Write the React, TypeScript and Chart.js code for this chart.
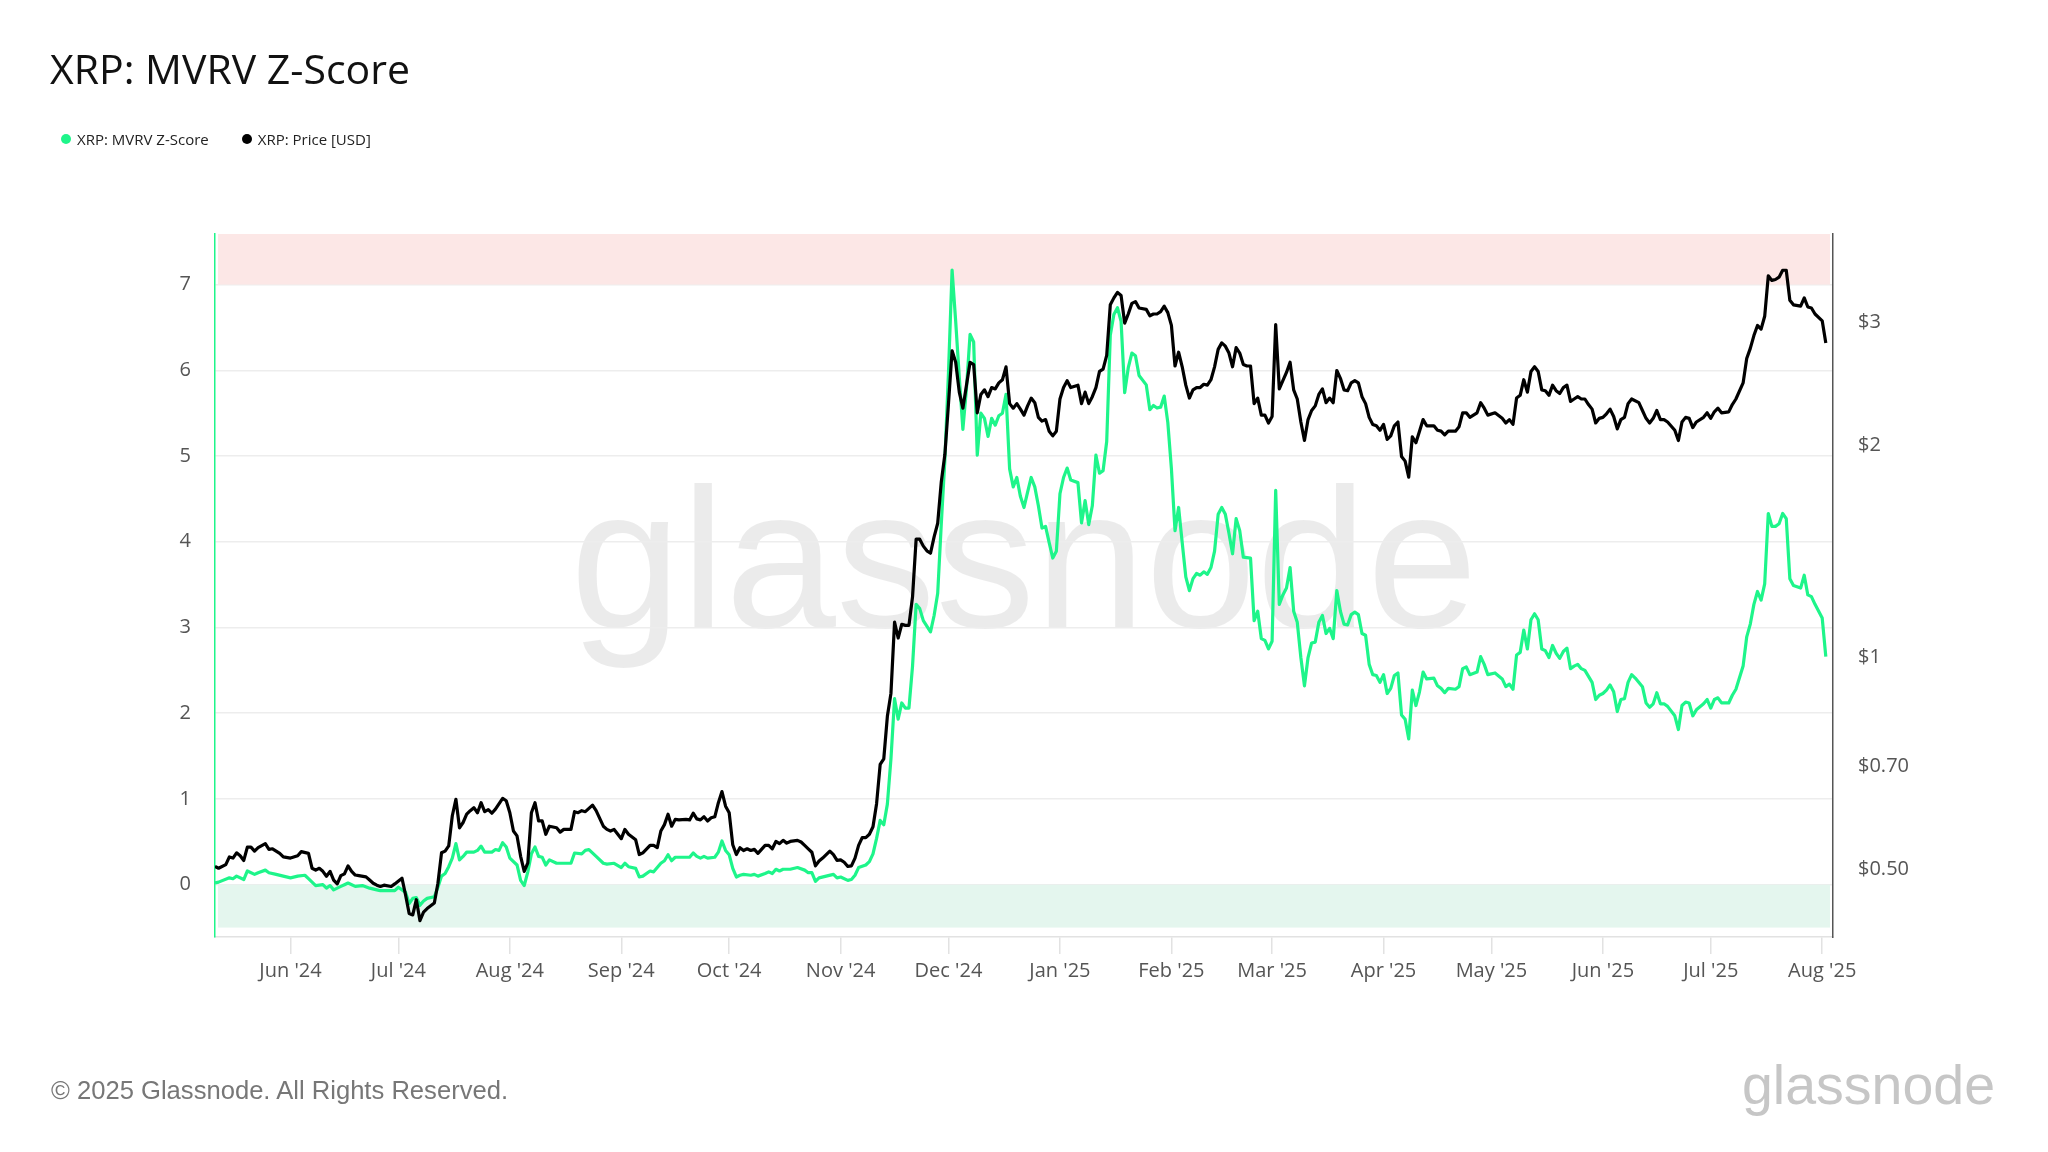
import React, { useEffect, useRef } from 'react';
import { Chart, registerables } from 'chart.js';

Chart.register(...registerables);

// Day index = days since 2024-05-11
const START_DATE = '2024-05-11';

const monthTickDays = [21, 51, 82, 113, 143, 174, 204, 235, 266, 294, 325, 355, 386, 416, 447];
const monthTickLabels = ["Jun '24", "Jul '24", "Aug '24", "Sep '24", "Oct '24", "Nov '24", "Dec '24", "Jan '25", "Feb '25", "Mar '25", "Apr '25", "May '25", "Jun '25", "Jul '25", "Aug '25"];

const zTickValues = [0, 1, 2, 3, 4, 5, 6, 7];
const priceTickValues = [0.5, 0.7, 1, 2, 3];
const priceTickLabels = ['$0.50', '$0.70', '$1', '$2', '$3'];

const zDays = [0, 1, 4, 5, 6, 8, 9, 11, 12, 14, 15, 17, 19, 21, 23, 25, 26, 28, 30, 31, 32, 33, 35, 36, 37, 39, 41, 43, 45, 46, 48, 50, 51, 53, 54, 55, 56, 57, 58, 59, 61, 62, 63, 64, 65, 66, 67, 68, 69, 70, 72, 73, 74, 75, 77, 78, 79, 80, 81, 82, 84, 85, 86, 87, 88, 89, 90, 91, 92, 93, 95, 96, 99, 100, 102, 103, 104, 106, 108, 109, 111, 113, 114, 115, 117, 118, 119, 121, 122, 124, 125, 126, 127, 128, 130, 132, 133, 134, 135, 136, 137, 139, 140, 141, 142, 143, 144, 145, 146, 147, 149, 150, 151, 153, 154, 155, 156, 157, 158, 160, 162, 164, 165, 166, 167, 168, 170, 172, 173, 174, 176, 177, 178, 179, 181, 182, 183, 184, 185, 186, 187, 188, 189, 190, 191, 192, 193, 194, 195, 196, 197, 199, 200, 201, 202, 203, 204, 205, 206, 207, 208, 209, 210, 211, 212, 213, 214, 215, 216, 217, 218, 219, 220, 221, 222, 223, 224, 225, 226, 227, 228, 229, 230, 231, 232, 233, 234, 235, 236, 237, 238, 240, 241, 242, 243, 244, 245, 246, 247, 248, 249, 250, 251, 252, 253, 254, 255, 256, 257, 259, 260, 261, 262, 263, 264, 265, 266, 267, 268, 269, 270, 271, 272, 273, 274, 275, 276, 277, 278, 279, 280, 281, 282, 283, 284, 285, 286, 288, 289, 290, 291, 292, 293, 294, 295, 296, 297, 298, 299, 300, 301, 302, 303, 304, 305, 306, 307, 308, 309, 310, 311, 312, 313, 314, 315, 316, 317, 318, 319, 320, 321, 322, 323, 324, 325, 326, 327, 328, 329, 330, 331, 332, 333, 334, 335, 336, 337, 339, 340, 341, 342, 343, 345, 346, 347, 348, 349, 351, 352, 353, 354, 356, 358, 359, 360, 361, 362, 363, 364, 365, 366, 367, 368, 369, 370, 371, 372, 373, 374, 375, 376, 377, 378, 379, 380, 381, 382, 383, 384, 385, 386, 387, 388, 389, 390, 391, 392, 393, 394, 395, 397, 398, 399, 400, 401, 402, 403, 404, 406, 407, 408, 409, 410, 411, 412, 414, 415, 416, 417, 418, 419, 421, 422, 423, 425, 426, 427, 428, 429, 430, 431, 432, 433, 434, 435, 436, 437, 438, 439, 441, 442, 443, 444, 445, 447, 448];
const zValues = [0.02, 0.03, 0.08, 0.07, 0.10, 0.06, 0.16, 0.12, 0.14, 0.17, 0.14, 0.12, 0.10, 0.08, 0.10, 0.11, 0.07, -0.01, 0.00, -0.04, -0.01, -0.06, -0.02, 0.00, 0.02, -0.02, -0.01, -0.04, -0.06, -0.07, -0.07, -0.07, -0.03, -0.09, -0.22, -0.16, -0.15, -0.24, -0.19, -0.16, -0.14, -0.03, 0.10, 0.13, 0.21, 0.31, 0.48, 0.29, 0.33, 0.38, 0.38, 0.40, 0.45, 0.38, 0.38, 0.41, 0.40, 0.49, 0.44, 0.31, 0.23, 0.05, -0.01, 0.15, 0.36, 0.44, 0.33, 0.32, 0.23, 0.29, 0.25, 0.25, 0.25, 0.37, 0.36, 0.40, 0.41, 0.33, 0.25, 0.24, 0.25, 0.20, 0.25, 0.21, 0.19, 0.09, 0.10, 0.16, 0.15, 0.25, 0.28, 0.35, 0.28, 0.32, 0.32, 0.32, 0.37, 0.33, 0.31, 0.33, 0.31, 0.32, 0.38, 0.51, 0.40, 0.35, 0.19, 0.09, 0.11, 0.12, 0.11, 0.12, 0.10, 0.13, 0.15, 0.13, 0.18, 0.16, 0.18, 0.18, 0.20, 0.17, 0.14, 0.14, 0.04, 0.08, 0.10, 0.12, 0.08, 0.09, 0.05, 0.06, 0.11, 0.20, 0.23, 0.27, 0.36, 0.54, 0.75, 0.70, 0.94, 1.47, 2.17, 1.93, 2.12, 2.06, 2.06, 2.55, 3.27, 3.22, 3.08, 2.95, 3.14, 3.40, 4.21, 4.96, 5.98, 7.17, 6.57, 5.92, 5.31, 5.79, 6.42, 6.33, 5.01, 5.50, 5.44, 5.23, 5.44, 5.36, 5.47, 5.50, 5.72, 4.85, 4.64, 4.75, 4.53, 4.40, 4.58, 4.75, 4.64, 4.42, 4.16, 4.18, 3.99, 3.81, 3.89, 4.56, 4.75, 4.86, 4.72, 4.69, 4.22, 4.48, 4.20, 4.42, 5.01, 4.80, 4.83, 5.17, 6.41, 6.65, 6.73, 6.57, 5.74, 6.03, 6.20, 6.17, 5.94, 5.83, 5.54, 5.59, 5.56, 5.57, 5.70, 5.39, 4.85, 4.13, 4.40, 3.99, 3.59, 3.43, 3.57, 3.63, 3.61, 3.65, 3.62, 3.70, 3.89, 4.32, 4.40, 4.32, 4.10, 3.86, 4.27, 4.13, 3.82, 3.81, 3.08, 3.19, 2.87, 2.85, 2.75, 2.84, 4.60, 3.27, 3.38, 3.46, 3.70, 3.19, 3.06, 2.65, 2.32, 2.65, 2.82, 2.83, 3.06, 3.14, 2.93, 2.99, 2.87, 3.43, 3.19, 3.04, 3.03, 3.15, 3.18, 3.15, 2.93, 2.91, 2.57, 2.45, 2.44, 2.36, 2.45, 2.23, 2.29, 2.44, 2.47, 1.98, 1.93, 1.70, 2.27, 2.09, 2.25, 2.48, 2.40, 2.41, 2.32, 2.29, 2.24, 2.29, 2.28, 2.31, 2.52, 2.54, 2.45, 2.48, 2.66, 2.57, 2.45, 2.47, 2.40, 2.31, 2.34, 2.28, 2.68, 2.71, 2.97, 2.75, 3.09, 3.16, 3.09, 2.75, 2.73, 2.65, 2.79, 2.70, 2.64, 2.72, 2.76, 2.52, 2.55, 2.57, 2.52, 2.50, 2.43, 2.36, 2.16, 2.21, 2.23, 2.27, 2.33, 2.25, 2.02, 2.16, 2.17, 2.36, 2.45, 2.41, 2.31, 2.12, 2.07, 2.11, 2.24, 2.11, 2.11, 2.08, 1.97, 1.81, 2.09, 2.13, 2.12, 1.97, 2.04, 2.11, 2.16, 2.06, 2.16, 2.18, 2.12, 2.12, 2.21, 2.28, 2.55, 2.89, 3.04, 3.27, 3.42, 3.32, 3.51, 4.33, 4.18, 4.18, 4.21, 4.33, 4.27, 3.57, 3.49, 3.46, 3.61, 3.38, 3.36, 3.27, 3.11, 2.66];

const priceDays = [0, 1, 3, 4, 5, 6, 7, 8, 9, 10, 11, 12, 14, 15, 16, 18, 19, 21, 23, 24, 26, 27, 28, 29, 30, 31, 32, 33, 34, 35, 36, 37, 38, 39, 40, 42, 43, 44, 45, 46, 47, 49, 50, 52, 53, 54, 55, 56, 57, 58, 59, 61, 62, 63, 64, 65, 66, 67, 68, 69, 70, 71, 72, 73, 74, 75, 76, 77, 78, 80, 81, 82, 83, 84, 85, 86, 87, 88, 89, 90, 91, 92, 93, 95, 96, 97, 99, 100, 101, 102, 103, 105, 106, 108, 109, 110, 111, 113, 114, 115, 117, 118, 119, 121, 122, 123, 124, 125, 126, 127, 128, 129, 131, 132, 133, 134, 135, 136, 137, 138, 139, 140, 141, 142, 143, 144, 145, 146, 147, 148, 149, 150, 151, 152, 153, 154, 155, 156, 157, 158, 159, 160, 162, 163, 164, 165, 166, 167, 168, 169, 171, 172, 173, 174, 175, 176, 177, 178, 179, 180, 181, 182, 183, 184, 185, 186, 187, 188, 189, 190, 191, 192, 193, 194, 195, 196, 197, 198, 199, 200, 201, 202, 203, 204, 205, 206, 207, 208, 209, 210, 211, 212, 213, 214, 215, 216, 217, 218, 219, 220, 221, 222, 223, 224, 225, 226, 227, 228, 229, 230, 231, 232, 233, 234, 235, 236, 237, 238, 240, 241, 242, 243, 244, 245, 246, 247, 248, 249, 250, 251, 252, 253, 254, 255, 256, 257, 259, 260, 261, 262, 263, 264, 265, 266, 267, 268, 269, 270, 271, 272, 273, 274, 275, 276, 277, 278, 279, 280, 281, 282, 283, 284, 285, 286, 287, 288, 289, 290, 291, 292, 293, 294, 295, 296, 297, 298, 299, 300, 301, 302, 303, 304, 305, 306, 307, 308, 309, 310, 311, 312, 313, 314, 315, 316, 317, 318, 319, 320, 321, 322, 323, 324, 325, 326, 327, 328, 329, 330, 331, 332, 333, 334, 335, 336, 337, 339, 340, 341, 342, 343, 345, 346, 347, 348, 349, 351, 352, 353, 354, 356, 358, 359, 360, 361, 362, 363, 364, 365, 366, 367, 368, 369, 370, 371, 372, 373, 374, 375, 376, 377, 378, 379, 380, 381, 382, 383, 384, 385, 386, 387, 388, 389, 390, 391, 392, 393, 394, 396, 397, 398, 399, 400, 401, 402, 403, 404, 406, 407, 408, 409, 410, 411, 412, 414, 415, 416, 417, 418, 419, 421, 422, 423, 425, 426, 427, 428, 429, 430, 431, 432, 433, 434, 435, 436, 437, 438, 439, 441, 442, 443, 444, 445, 447, 448];
const priceValues = [0.504, 0.501, 0.507, 0.520, 0.518, 0.527, 0.522, 0.514, 0.537, 0.537, 0.530, 0.536, 0.543, 0.533, 0.534, 0.526, 0.520, 0.518, 0.522, 0.529, 0.526, 0.501, 0.498, 0.501, 0.496, 0.488, 0.496, 0.482, 0.476, 0.489, 0.492, 0.505, 0.496, 0.490, 0.489, 0.487, 0.482, 0.477, 0.474, 0.472, 0.474, 0.472, 0.476, 0.485, 0.459, 0.432, 0.430, 0.452, 0.422, 0.434, 0.439, 0.447, 0.477, 0.527, 0.530, 0.539, 0.595, 0.628, 0.572, 0.582, 0.598, 0.605, 0.611, 0.601, 0.621, 0.603, 0.607, 0.600, 0.608, 0.630, 0.625, 0.601, 0.566, 0.557, 0.521, 0.496, 0.510, 0.601, 0.621, 0.585, 0.585, 0.560, 0.575, 0.572, 0.564, 0.569, 0.569, 0.603, 0.601, 0.605, 0.603, 0.616, 0.605, 0.575, 0.569, 0.566, 0.569, 0.552, 0.569, 0.560, 0.550, 0.524, 0.527, 0.540, 0.540, 0.536, 0.566, 0.578, 0.598, 0.575, 0.588, 0.587, 0.588, 0.587, 0.600, 0.589, 0.587, 0.593, 0.585, 0.591, 0.593, 0.621, 0.644, 0.614, 0.601, 0.541, 0.524, 0.536, 0.531, 0.534, 0.531, 0.533, 0.526, 0.533, 0.540, 0.540, 0.534, 0.547, 0.543, 0.549, 0.544, 0.547, 0.549, 0.546, 0.540, 0.534, 0.528, 0.505, 0.513, 0.518, 0.530, 0.524, 0.514, 0.515, 0.511, 0.504, 0.505, 0.518, 0.540, 0.554, 0.554, 0.560, 0.574, 0.619, 0.704, 0.717, 0.824, 0.889, 1.122, 1.065, 1.114, 1.110, 1.110, 1.219, 1.472, 1.472, 1.439, 1.417, 1.406, 1.483, 1.551, 1.777, 1.944, 2.295, 2.729, 2.628, 2.383, 2.261, 2.438, 2.628, 2.608, 2.227, 2.365, 2.401, 2.348, 2.419, 2.408, 2.456, 2.482, 2.589, 2.295, 2.261, 2.295, 2.254, 2.210, 2.278, 2.337, 2.302, 2.194, 2.167, 2.178, 2.097, 2.065, 2.097, 2.330, 2.419, 2.474, 2.419, 2.438, 2.295, 2.383, 2.295, 2.348, 2.419, 2.550, 2.569, 2.688, 3.172, 3.245, 3.304, 3.270, 2.987, 3.078, 3.187, 3.206, 3.139, 3.125, 3.060, 3.078, 3.078, 3.102, 3.158, 3.092, 2.965, 2.596, 2.716, 2.589, 2.438, 2.337, 2.401, 2.419, 2.419, 2.445, 2.438, 2.482, 2.589, 2.741, 2.800, 2.770, 2.708, 2.589, 2.757, 2.708, 2.608, 2.596, 2.596, 2.295, 2.337, 2.210, 2.210, 2.154, 2.200, 2.974, 2.408, 2.474, 2.542, 2.628, 2.401, 2.330, 2.161, 2.034, 2.178, 2.244, 2.278, 2.365, 2.408, 2.302, 2.337, 2.302, 2.558, 2.493, 2.401, 2.394, 2.456, 2.474, 2.456, 2.348, 2.295, 2.194, 2.144, 2.134, 2.103, 2.144, 2.041, 2.065, 2.134, 2.161, 1.930, 1.901, 1.804, 2.059, 2.019, 2.097, 2.178, 2.134, 2.134, 2.103, 2.097, 2.072, 2.097, 2.097, 2.128, 2.227, 2.227, 2.194, 2.227, 2.302, 2.261, 2.210, 2.227, 2.187, 2.154, 2.178, 2.144, 2.337, 2.358, 2.482, 2.383, 2.550, 2.589, 2.550, 2.401, 2.394, 2.358, 2.438, 2.394, 2.372, 2.419, 2.438, 2.312, 2.330, 2.348, 2.330, 2.330, 2.288, 2.254, 2.154, 2.187, 2.194, 2.220, 2.254, 2.200, 2.113, 2.178, 2.194, 2.295, 2.330, 2.302, 2.244, 2.187, 2.154, 2.187, 2.244, 2.178, 2.178, 2.161, 2.103, 2.034, 2.161, 2.194, 2.187, 2.122, 2.161, 2.194, 2.227, 2.187, 2.234, 2.261, 2.227, 2.234, 2.288, 2.330, 2.456, 2.660, 2.750, 2.868, 2.965, 2.929, 3.055, 3.488, 3.436, 3.446, 3.472, 3.552, 3.552, 3.220, 3.172, 3.158, 3.245, 3.149, 3.139, 3.078, 3.010, 2.800];

const GREEN = '#1ef58a';
const TICK_COLOR = '#555555';
const AXIS_FONT = { family: "'Open Sans', 'Noto Sans', sans-serif", size: 20 };

const W = 2048;
const H = 1152;
const PLOT_LEFT = 215;
const PLOT_RIGHT = 1833;
const PLOT_TOP = 234;
const PLOT_BOTTOM = 937;

const watermarkPlugin = {
  id: 'watermark',
  beforeDraw(chart: any) {
    const { ctx, chartArea: a } = chart;
    ctx.save();
    ctx.font = "400 199px 'Liberation Sans', Arial, sans-serif";
    ctx.fillStyle = 'rgba(0,0,0,0.08)';
    ctx.textAlign = 'center';
    ctx.textBaseline = 'alphabetic';
    ctx.fillText('glassnode', (a.left + a.right) / 2, a.top + (a.bottom - a.top) * 0.559);
    ctx.restore();
  },
};

const bandsPlugin = {
  id: 'zoneBands',
  beforeDatasetsDraw(chart: any) {
    const { ctx, chartArea: a, scales } = chart;
    const y = scales.y;
    ctx.save();
    const y7 = y.getPixelForValue(7);
    const y0 = y.getPixelForValue(0);
    const yLow = y.getPixelForValue(-0.5);
    ctx.fillStyle = '#fce7e6';
    ctx.fillRect(a.left + 3, a.top, a.right - a.left - 6, y7 - a.top);
    ctx.fillStyle = '#e4f6ee';
    ctx.fillRect(a.left + 3, y0, a.right - a.left - 6, yLow - y0);
    ctx.restore();
  },
};

export default function App() {
  const canvasRef = useRef<HTMLCanvasElement | null>(null);

  useEffect(() => {
    document.body.style.margin = '0';
    const canvas = canvasRef.current;
    if (!canvas) return;
    const zData = zDays.map((d, i) => ({ x: d, y: zValues[i] }));
    const priceData = priceDays.map((d, i) => ({ x: d, y: priceValues[i] }));

    const chart = new Chart(canvas, {
      type: 'line',
      data: {
        datasets: [
          {
            label: 'XRP: MVRV Z-Score',
            data: zData,
            yAxisID: 'y',
            borderColor: GREEN,
            borderWidth: 3.2,
            pointRadius: 0,
            tension: 0,
            borderJoinStyle: 'round',
            order: 1,
          },
          {
            label: 'XRP: Price [USD]',
            data: priceData,
            yAxisID: 'yPrice',
            borderColor: '#000000',
            borderWidth: 3.2,
            pointRadius: 0,
            tension: 0,
            borderJoinStyle: 'round',
            order: 0,
          },
        ],
      },
      options: {
        animation: false,
        responsive: false,
        devicePixelRatio: 1,
        maintainAspectRatio: false,
        layout: { padding: { top: PLOT_TOP, left: 0, right: 0, bottom: 0 } },
        plugins: {
          legend: { display: false },
          tooltip: { enabled: false },
          title: { display: false },
        },
        scales: {
          x: {
            type: 'linear',
            min: 0,
            max: 450,
            afterBuildTicks: (s: any) => {
              s.ticks = monthTickDays.map((v) => ({ value: v }));
            },
            afterFit: (s: any) => {
              s.height = H - PLOT_BOTTOM;
            },
            grid: {
              drawOnChartArea: false,
              drawTicks: true,
              tickLength: 17,
              color: '#e2e2e2',
              lineWidth: 1.5,
            },
            border: { display: true, color: '#e2e2e2', width: 1.5 },
            ticks: {
              color: TICK_COLOR,
              font: AXIS_FONT,
              padding: 5,
              maxRotation: 0,
              autoSkip: false,
              callback: (v: any) => {
                const i = monthTickDays.indexOf(Number(v));
                return i >= 0 ? monthTickLabels[i] : '';
              },
            },
          },
          y: {
            type: 'linear',
            position: 'left',
            min: -0.61,
            max: 7.59,
            afterBuildTicks: (s: any) => {
              s.ticks = zTickValues.map((v) => ({ value: v }));
            },
            afterFit: (s: any) => {
              s.width = PLOT_LEFT;
            },
            grid: { color: '#ededed', lineWidth: 1.5, drawTicks: false },
            border: { display: true, color: GREEN, width: 1.5 },
            ticks: {
              color: TICK_COLOR,
              font: AXIS_FONT,
              padding: 24,
              callback: (v: any) => String(v),
            },
          },
          yPrice: {
            type: 'logarithmic',
            position: 'right',
            min: 0.4,
            max: 4,
            afterBuildTicks: (s: any) => {
              s.ticks = priceTickValues.map((v) => ({ value: v }));
            },
            afterFit: (s: any) => {
              s.width = W - PLOT_RIGHT;
            },
            grid: { drawOnChartArea: false, drawTicks: false },
            border: { display: true, color: '#555555', width: 1.5 },
            ticks: {
              color: TICK_COLOR,
              font: AXIS_FONT,
              padding: 25,
              callback: (v: any) => {
                const i = priceTickValues.indexOf(Number(v));
                return i >= 0 ? priceTickLabels[i] : '';
              },
            },
          },
        },
      } as any,
      plugins: [watermarkPlugin, bandsPlugin],
    });

    let alive = true;
    if ((document as any).fonts && (document as any).fonts.ready) {
      (document as any).fonts.ready.then(() => {
        if (alive) chart.update();
      });
    }

    return () => {
      alive = false;
      chart.destroy();
    };
  }, []);

  const dot = (color: string) => ({
    display: 'inline-block',
    width: 10,
    height: 10,
    borderRadius: '50%',
    background: color,
    marginRight: 6,
  });

  return (
    <div
      style={{
        position: 'absolute',
        left: 0,
        top: 0,
        width: W,
        height: H,
        background: '#ffffff',
        overflow: 'hidden',
        fontFamily: "'Open Sans', 'Noto Sans', sans-serif",
      }}
    >
      <canvas
        ref={canvasRef}
        width={W}
        height={H}
        style={{ position: 'absolute', left: 0, top: 0, width: W, height: H }}
      />
      <div
        style={{
          position: 'absolute',
          left: 50,
          top: 48,
          fontSize: 41,
          lineHeight: '41px',
          color: '#111111',
          whiteSpace: 'nowrap',
        }}
      >
        XRP: MVRV Z-Score
      </div>
      <div
        style={{
          position: 'absolute',
          left: 61,
          top: 128,
          height: 22,
          display: 'flex',
          alignItems: 'center',
          fontSize: 15,
          color: '#222222',
          whiteSpace: 'nowrap',
        }}
      >
        <span style={dot(GREEN)} />
        <span style={{ marginRight: 33 }}>XRP: MVRV Z-Score</span>
        <span style={dot('#000000')} />
        <span>XRP: Price [USD]</span>
      </div>
      <div
        style={{
          position: 'absolute',
          left: 51,
          top: 1075,
          fontFamily: "'Liberation Sans', Arial, sans-serif",
          fontSize: 25.6,
          lineHeight: '30px',
          color: '#777777',
          whiteSpace: 'nowrap',
        }}
      >
        © 2025 Glassnode. All Rights Reserved.
      </div>
      <div
        style={{
          position: 'absolute',
          left: 1742,
          top: 1053,
          fontFamily: "'Liberation Sans', Arial, sans-serif",
          fontSize: 55.5,
          lineHeight: '64px',
          color: '#c6c6c6',
          whiteSpace: 'nowrap',
        }}
      >
        glassnode
      </div>
    </div>
  );
}
